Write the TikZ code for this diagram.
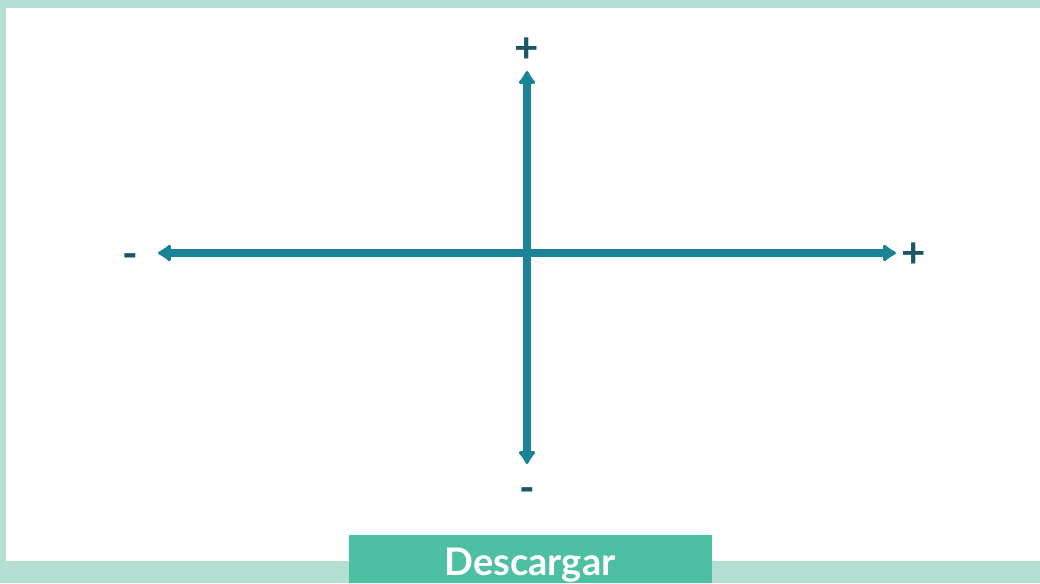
\documentclass[tikz,border=0pt]{standalone}
\usepackage{fontspec}
\setmainfont{Lato}
\usetikzlibrary{arrows.meta, positioning}
\definecolor{framegreen}{HTML}{B3DFD2}
\definecolor{btngreen}{HTML}{4DC0A3}
\definecolor{axisteal}{HTML}{1A8396}
\definecolor{signteal}{HTML}{1D5466}
\tikzset{
  axis/.style  ={{Latex[round,length=15pt,width=21pt]}-{Latex[round,length=15pt,width=21pt]}, line width=8.5pt, axisteal},
  sign/.style  ={font=\fontsize{42}{42}\selectfont\bfseries, text=signteal, inner sep=0pt},
  btn/.style   ={fill=btngreen, minimum width=363pt, minimum height=48pt, inner sep=0pt},
  btntext/.style ={text=white, font=\fontsize{38}{38}\selectfont\bfseries, inner sep=0pt, anchor=base},
}

\begin{document}
\begin{tikzpicture}[x=1pt, y=-1pt]
  \useasboundingbox (0,0) rectangle (1040,583);
  % frame
  \fill[framegreen] (0,0) rectangle (1040,583);
  \fill[white] (6,8) rectangle (1040,561);

  % axes
  \coordinate (xm) at (158,253);
  \coordinate (xp) at (896,253);
  \coordinate (yp) at (527,71);
  \coordinate (ym) at (527,464);
  \draw[axis] (xm) -- (xp);
  \draw[axis] (ym) -- (yp);

  % signs
  \node[sign] (lxm) at (130,261) {-};
  \node[sign] (lxp) at (914,255) {+};
  \node[sign] (lyp) at (527,50)  {+};
  \node[sign] (lym) at (527,495) {-};

  % button
  \node[btn] (dl) at (530.5,559) {};
  \node[btntext] (dltxt) at (530,575) {Descargar};
\end{tikzpicture}
\end{document}
